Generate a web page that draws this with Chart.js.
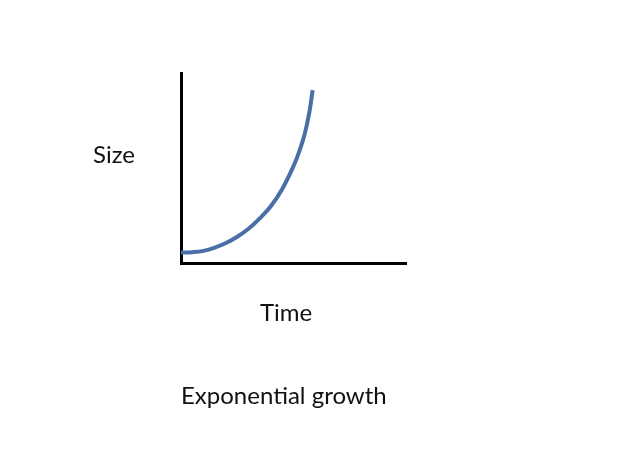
<!DOCTYPE html>
<html>
<head>
<meta charset="utf-8">
<script src="https://cdn.jsdelivr.net/npm/chart.js@4/dist/chart.umd.min.js"></script>
<style>
  html, body { margin: 0; padding: 0; background: #fff; }
  #wrap { position: relative; width: 623px; height: 469px; }
  canvas { position: absolute; left: 0; top: 0; }
  .lbl { position: absolute; font-family: Lato, "Open Sans", sans-serif; font-size: 24px; line-height: 28px; color: #111; white-space: nowrap; }
</style>
</head>
<body>
<div id="wrap">
  <canvas id="growth" width="623" height="469"></canvas>
  <div class="lbl" id="lbl-size" style="left:93px; top:140px;">Size</div>
  <div class="lbl" id="lbl-time" style="left:260px; top:298px;">Time</div>
  <div class="lbl" id="lbl-title" style="left:181px; top:381px;">Exponential growth</div>
</div>
<script>
// --- Data ---
const timeValues = [0, 0.5, 1, 1.5, 2, 2.5, 3, 3.5, 4, 4.5, 5, 5.25, 5.5, 5.7, 5.85];
const sizeValues = [5.5, 5.7, 6.4, 8.1, 10.5, 13.8, 18, 23.5, 30, 39, 51, 58.5, 68, 79, 91];

const xMax = 10;
const yMax = 100;

// --- Chart ---
const ctx = document.getElementById('growth').getContext('2d');

new Chart(ctx, {
    type: 'line',
    data: {
        datasets: [{
            data: timeValues.map((t, i) => ({ x: t, y: sizeValues[i] })),
            borderColor: '#4a6ea8',
            borderWidth: 4,
            pointRadius: 0,
            tension: 0.4,
            fill: false
        }]
    },
    options: {
        responsive: false,
        animation: false,
        layout: { padding: { left: 181, right: 217, top: 73, bottom: 206 } },
        plugins: { legend: { display: false }, tooltip: { enabled: false } },
        scales: {
            x: {
                type: 'linear', min: 0, max: xMax,
                ticks: { display: false },
                grid: { display: false, drawTicks: false },
                border: { display: true, color: '#000', width: 3 }
            },
            y: {
                min: 0, max: yMax,
                ticks: { display: false },
                grid: { display: false, drawTicks: false },
                border: { display: true, color: '#000', width: 3 }
            }
        }
    }
});
</script>
</body>
</html>
